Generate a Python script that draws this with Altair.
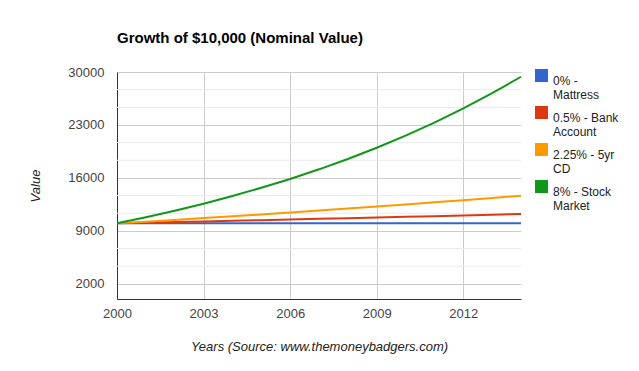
import altair as alt
import pandas as pd

years = list(range(2000, 2015))
series = ["0% - Mattress", "0.5% - Bank Account", "2.25% - 5yr CD", "8% - Stock Market"]
legend_lines = {"0% - Mattress": "0% -|Mattress",
                "0.5% - Bank Account": "0.5% - Bank|Account",
                "2.25% - 5yr CD": "2.25% - 5yr|CD",
                "8% - Stock Market": "8% - Stock|Market"}
colors = ["#3366cc", "#dc3912", "#ff9900", "#109618"]

mattress = [10000] * 15
bank = [10000, 10083, 10167, 10250, 10335, 10421, 10507, 10594, 10682, 10771, 10860, 10950, 11041, 11133, 11226]
cd = [10000, 10225, 10455, 10690, 10931, 11177, 11428, 11685, 11948, 12217, 12492, 12773, 13060, 13354, 13655]
stock = [10000, 10800, 11664, 12597, 13605, 14693, 15869, 17138, 18509, 19990, 21589, 23316, 25182, 27196, 29372]

y_ticks = [2000, 9000, 16000, 23000, 30000]
y_minor = [4333, 6667, 11333, 13667, 18333, 20667, 25333, 27667]
x_ticks = [2000, 2003, 2006, 2009, 2012]

rows = []
for name, vals in zip(series, [mattress, bank, cd, stock]):
    for yr, v in zip(years, vals):
        rows.append({"Year": yr, "Value": v, "Series": legend_lines[name]})
df = pd.DataFrame(rows)
minor_df = pd.DataFrame({"Value": y_minor})

domain_names = [legend_lines[s] for s in series]
yscale = alt.Scale(domain=[0, 30000], nice=False, zero=False)
xscale = alt.Scale(domain=[2000, 2014], nice=False, zero=False)
color_scale = alt.Scale(domain=domain_names, range=colors)

yaxis = alt.Axis(values=y_ticks, format="d", title="Value", ticks=False, labelFlush=False,
                 labelPadding=13, grid=True, titleX=-82, titleY=113.5, titleAngle=-90,
                 titleAlign="center", titleBaseline="middle")
xaxis = alt.Axis(values=x_ticks, format="d", title="Years (Source: www.themoneybadgers.com)",
                 ticks=False, labelPadding=8, grid=True, titlePadding=20, labelFlush=False)

minor = alt.Chart(minor_df).mark_rule(color="#ebebeb", strokeWidth=1).encode(
    y=alt.Y("Value:Q", scale=yscale, axis=yaxis)
)

lines = alt.Chart(df).mark_line(strokeWidth=2).encode(
    x=alt.X("Year:Q", scale=xscale, axis=xaxis),
    y=alt.Y("Value:Q", scale=yscale, axis=yaxis),
    color=alt.Color("Series:N", sort=domain_names, scale=color_scale, legend=None),
)

keys = alt.Chart(df).mark_square(opacity=0, size=1).encode(
    x=alt.X("Year:Q", scale=xscale, axis=xaxis),
    y=alt.Y("Value:Q", scale=yscale, axis=yaxis),
    color=alt.Color("Series:N", sort=domain_names, scale=color_scale,
                    legend=alt.Legend(title=None, orient="none", legendX=418, legendY=-3,
                                      symbolType="square", symbolSize=169, symbolStrokeWidth=0,
                                      symbolOpacity=1,
                                      labelExpr="split(datum.label, '|')",
                                      labelFontSize=12, labelColor="#222222", labelFont="Liberation Sans",
                                      labelOffset=5, rowPadding=5, labelBaseline="top",
                                      labelLimit=100)),
)

chart = alt.layer(minor, lines, keys).resolve_legend(color="independent").properties(
    width=404, height=227,
    title=alt.TitleParams("Growth of $10,000 (Nominal Value)", anchor="start", frame="group",
                          font="Liberation Sans", fontSize=15, fontWeight="bold", color="#000000",
                          offset=20),
    padding={"left": 109, "top": 64, "right": 110, "bottom": 57},
    autosize=alt.AutoSizeParams(type="none"),
).configure_view(stroke=None).configure_axis(
    labelFont="Liberation Sans", labelFontSize=13, labelColor="#444444",
    titleFont="Liberation Sans", titleFontSize=13, titleFontStyle="italic",
    titleFontWeight="normal", titleColor="#222222",
    gridColor="#cccccc", domainColor="#333333", domainWidth=1,
)

chart.save("out.html", embed_options={"renderer": "svg", "actions": False})
